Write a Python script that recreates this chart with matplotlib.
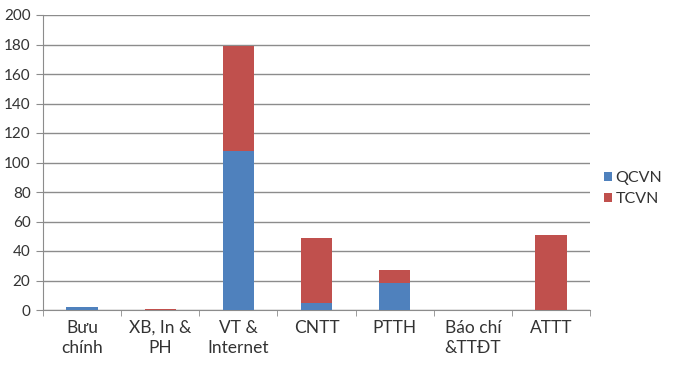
import matplotlib
matplotlib.use("Agg")
import matplotlib.pyplot as plt
import numpy as np

categories = ["Bưu\nchính", "XB, In &\nPH", "VT &\nInternet", "CNTT", "PTTH", "Báo chí\n&TTĐT", "ATTT"]
qcvn = [2, 0, 108, 5, 18, 0, 0]
tcvn = [0, 1, 71, 44, 9, 0, 51]
yticks = [0, 20, 40, 60, 80, 100, 120, 140, 160, 180, 200]

plt.rcParams['font.family'] = ['Lato', 'DejaVu Sans']

fig = plt.figure(figsize=(6.74, 3.67), dpi=100)
ax = fig.add_axes([43/674, 57/367, (590-43)/674, (310-15)/367])

x = np.arange(len(categories))
ax.bar(x, qcvn, width=0.4, color="#4F81BD", label="QCVN", zorder=3)
ax.bar(x, tcvn, width=0.4, bottom=qcvn, color="#C0504D", label="TCVN", zorder=3)

ax.set_xlim(-0.5, len(categories) - 0.5)
ax.set_ylim(0, 200)
ax.set_yticks(yticks)
ax.set_yticklabels([str(v) for v in yticks], fontsize=11, color="#333333")
ax.yaxis.grid(True, color="#8c8c8c", linewidth=1.0, zorder=0)
ax.set_axisbelow(True)

ax.set_xticks(x)
ax.set_xticklabels(categories, fontsize=12.5, color="#333333", linespacing=1.3)
ax.tick_params(axis='x', length=0, pad=7)
ax.set_xticks(np.arange(-0.5, len(categories) + 0.5, 1), minor=True)
ax.tick_params(axis='x', which='minor', length=4, color="#8c8c8c")
ax.tick_params(axis='y', length=5, color="#8c8c8c", pad=4)

for s in ["top", "right"]:
    ax.spines[s].set_visible(False)
for s in ["left", "bottom"]:
    ax.spines[s].set_color("#8c8c8c")

ax.legend(loc="upper left", bbox_to_anchor=(1.0, 0.52), frameon=False, fontsize=11.5,
          handlelength=0.5, handleheight=0.5, handletextpad=0.2, labelspacing=0.45,
          labelcolor="#333333")

fig.savefig("out.png", dpi=100)
